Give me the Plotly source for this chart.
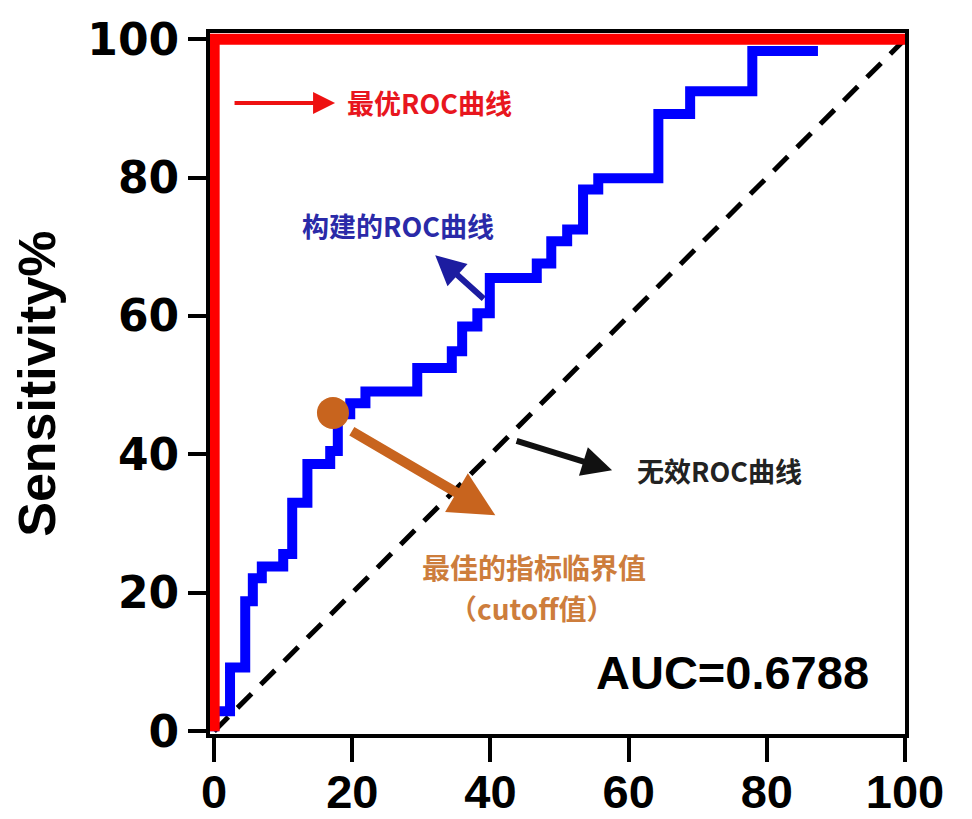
import plotly.graph_objects as go

# ---- data ----
fpr_built = [0, 0, 2.3, 4.5, 5.6, 6.9, 10.0, 11.3, 13.5, 16.8, 17.9, 19.7, 21.9,
             29.4, 34.4, 35.9, 38.1, 39.9, 46.7, 48.8, 51.1, 53.4, 55.6, 64.3,
             68.9, 77.9, 87.4]
sens_built = [0, 2.9, 9.2, 18.8, 22.1, 23.8, 25.6, 33.0, 38.6, 40.5, 45.8, 47.4, 49.1,
              52.5, 54.9, 58.5, 60.4, 65.5, 67.6, 70.8, 72.5, 78.3, 79.9, 89.2,
              92.5, 98.3, 98.3]
fpr_best = [0, 0, 100]
sens_best = [0, 100, 100]
fpr_null = [0, 100]
sens_null = [0, 100]
cutoff_x = [17.2]
cutoff_y = [46.0]
tick_vals = [0, 20, 40, 60, 80, 100]
tick_text = ["0", "20", "40", "60", "80", "100"]
auc_text = "AUC=0.6788"

fig = go.Figure()
fig.add_trace(go.Scatter(x=fpr_null, y=sens_null, mode="lines",
                         line=dict(color="black", width=5, dash="20px,13px"),
                         hoverinfo="skip", showlegend=False))
fig.add_trace(go.Scatter(x=fpr_built, y=sens_built, mode="lines",
                         line=dict(color="#0000ff", width=10, shape="hv"),
                         showlegend=False))
fig.add_trace(go.Scatter(x=fpr_best, y=sens_best, mode="lines",
                         line=dict(color="#ff0000", width=11),
                         showlegend=False))
fig.add_trace(go.Scatter(x=cutoff_x, y=cutoff_y, mode="markers",
                         marker=dict(color="#c8641e", size=32, line=dict(width=0)),
                         showlegend=False, cliponaxis=False))

cjk = "Noto Sans CJK SC"
ann = []
# red label + arrow
ann.append(dict(x=17.5, y=90.8, ax=-102, ay=0, text="", showarrow=True,
                arrowhead=2, arrowsize=1.1, arrowwidth=4, arrowcolor="#ee1111"))
ann.append(dict(x=19.0, y=90.8, text="最优ROC曲线", showarrow=False, xanchor="left",
                font=dict(family=cjk, size=27, color="#e8161e", weight="bold")))
# blue label + arrow
ann.append(dict(x=26.6, y=73.1, text="构建的ROC曲线", showarrow=False,
                font=dict(family=cjk, size=27, color="#2a2aa8", weight="bold")))
ann.append(dict(x=32.0, y=68.8, ax=50, ay=45, text="", showarrow=True,
                arrowhead=2, arrowsize=1.0, arrowwidth=6, arrowcolor="#1c1ca0"))
# black label + arrow
ann.append(dict(x=57.6, y=37.7, ax=-97, ay=-30, text="", showarrow=True,
                arrowhead=2, arrowsize=1.0, arrowwidth=6, arrowcolor="#111111"))
ann.append(dict(x=73.2, y=37.7, text="无效ROC曲线", showarrow=False,
                font=dict(family=cjk, size=27, color="#222222", weight="bold")))
# orange label + arrow
ann.append(dict(x=40.7, y=31.2, ax=-145, ay=-85, text="", showarrow=True,
                arrowhead=2, arrowsize=0.9, arrowwidth=10, arrowcolor="#c8641e"))
ann.append(dict(x=46.3, y=23.7, text="最佳的指标临界值", showarrow=False,
                font=dict(family=cjk, size=28, color="#cd7d3c", weight="bold")))
ann.append(dict(x=46.0, y=17.8, text="（cutoff值）", showarrow=False,
                font=dict(family=cjk, size=28, color="#cd7d3c", weight="bold")))
# AUC
ann.append(dict(x=75.0, y=8.5, text=auc_text, showarrow=False,
                font=dict(family="Liberation Sans", size=47, color="black", weight="bold")))
# y-axis title
ann.append(dict(xref="paper", yref="paper", x=-0.25, y=0.5, text="Sensitivity%",
                showarrow=False, textangle=-90, xanchor="center", yanchor="middle",
                font=dict(family="Liberation Sans", size=52, color="black", weight="bold")))

# page body has an 8px margin, so the figure is drawn 8px smaller to fit the window
fig.update_layout(
    width=964, height=811,
    margin=dict(l=202, r=67, t=25, b=85),
    paper_bgcolor="white", plot_bgcolor="white",
    annotations=ann,
    xaxis=dict(range=[-0.6, 100], tickvals=tick_vals, ticktext=tick_text,
               automargin=False,
               showgrid=False, zeroline=False, showline=True, linecolor="black",
               linewidth=4, mirror=True, ticks="outside", ticklen=24, tickwidth=4,
               tickcolor="black", ticklabelstandoff=-10,
               tickfont=dict(family="Liberation Sans", size=47, color="black", weight="bold")),
    yaxis=dict(range=[-0.4, 100.9], tickvals=tick_vals, ticktext=tick_text,
               automargin=False,
               showgrid=False, zeroline=False, showline=True, linecolor="black",
               linewidth=4, mirror=True, ticks="outside", ticklen=18, tickwidth=4,
               tickcolor="black",
               tickfont=dict(family="DejaVu Sans", size=44, color="black", weight="bold")),
)

fig.write_html("out.html")
